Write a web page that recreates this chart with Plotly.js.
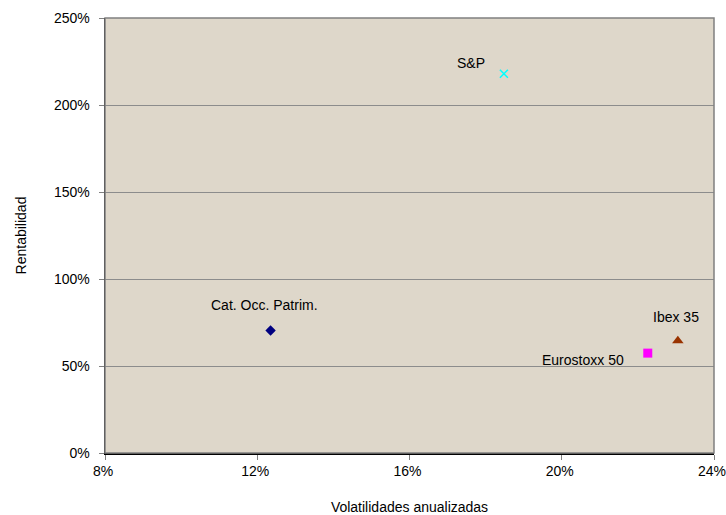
<!DOCTYPE html>
<html>
<head>
<meta charset="utf-8">
<script src="https://cdn.plot.ly/plotly-3.0.1.min.js"></script>
<style>html,body{margin:0;padding:0;background:#fff;}#chart{width:726px;height:515px;}</style>
</head>
<body>
<div id="chart"></div>
<script>
const names = ["Cat. Occ. Patrim.", "S&P", "Eurostoxx 50", "Ibex 35"];
const volatility = [12.35, 18.48, 22.26, 23.05];   // %
const returns = [70.4, 218, 57.4, 64.5];           // %
const xTicks = [8, 12, 16, 20, 24];
const yTicks = [0, 50, 100, 150, 200, 250];

const markerStyles = [
  {symbol: "diamond", color: "#000080", size: 8, line: {width: 0}},
  {symbol: "x-thin-open", color: "#00FFFF", size: 8, line: {width: 1.5, color: "#00FFFF"}},
  {symbol: "square", color: "#FF00FF", size: 9, line: {width: 0}},
  {symbol: "triangle-up", color: "#993300", size: 10, line: {width: 0}}
];
const labelPos = [
  {xanchor: "center", xshift: -6, yshift: 26},
  {xanchor: "right", xshift: -17, yshift: 11},
  {xanchor: "right", xshift: -22, yshift: -7},
  {xanchor: "center", xshift: -2, yshift: 24}
];

const traces = names.map((n, i) => ({
  type: "scatter", mode: "markers", name: n,
  x: [volatility[i]], y: [returns[i]],
  marker: markerStyles[i], hoverinfo: "name+x+y"
}));

const fam = "Liberation Sans, Arial, sans-serif";
const font = {family: fam, size: 14, color: "#000"};

const annotations = names.map((n, i) => ({
  x: volatility[i], y: returns[i], xref: "x", yref: "y",
  text: n, showarrow: false, xanchor: labelPos[i].xanchor, yanchor: "middle",
  xshift: labelPos[i].xshift, yshift: labelPos[i].yshift,
  font: {family: fam, size: 14, color: "#000"}
}));

const layout = {
  width: 726, height: 515,
  margin: {l: 105, r: 12, t: 17.5, b: 62, pad: 0},
  paper_bgcolor: "#ffffff",
  plot_bgcolor: "#DED7CA",
  showlegend: false,
  font: font,
  xaxis: {
    range: [8, 24], tickvals: xTicks, ticktext: xTicks.map(v => v + "%"),
    showgrid: false, zeroline: false,
    showline: true, linecolor: "#000", linewidth: 1.5,
    ticks: "outside", ticklen: 5, tickcolor: "#808080",
    ticklabeloverflow: "allow", ticklabelshift: -2,
    tickfont: {family: fam, size: 14, color: "#000"},
    title: {text: "Volatilidades anualizadas", font: {family: fam, size: 14, color: "#000"}, standoff: 24}
  },
  yaxis: {
    range: [0, 250], tickvals: yTicks, ticktext: yTicks.map(v => v + "%"),
    showgrid: true, gridcolor: "#8C8C8C", gridwidth: 1, zeroline: false,
    showline: true, linecolor: "#000", linewidth: 1.5,
    ticks: "outside", ticklen: 5, tickcolor: "#808080",
    ticklabelstandoff: 6, ticklabeloverflow: "allow",
    tickfont: {family: fam, size: 14, color: "#000"},
    title: {text: "Rentabilidad", font: {family: fam, size: 14, color: "#000"}, standoff: 24}
  },
  shapes: [
    {type: "rect", xref: "paper", yref: "paper", x0: 0, x1: 1, y0: 0, y1: 1,
     line: {color: "#808080", width: 1.5}, fillcolor: "rgba(0,0,0,0)", layer: "above"}
  ],
  annotations: annotations
};

Plotly.newPlot("chart", traces, layout, {displayModeBar: false, staticPlot: true});
</script>
</body>
</html>
